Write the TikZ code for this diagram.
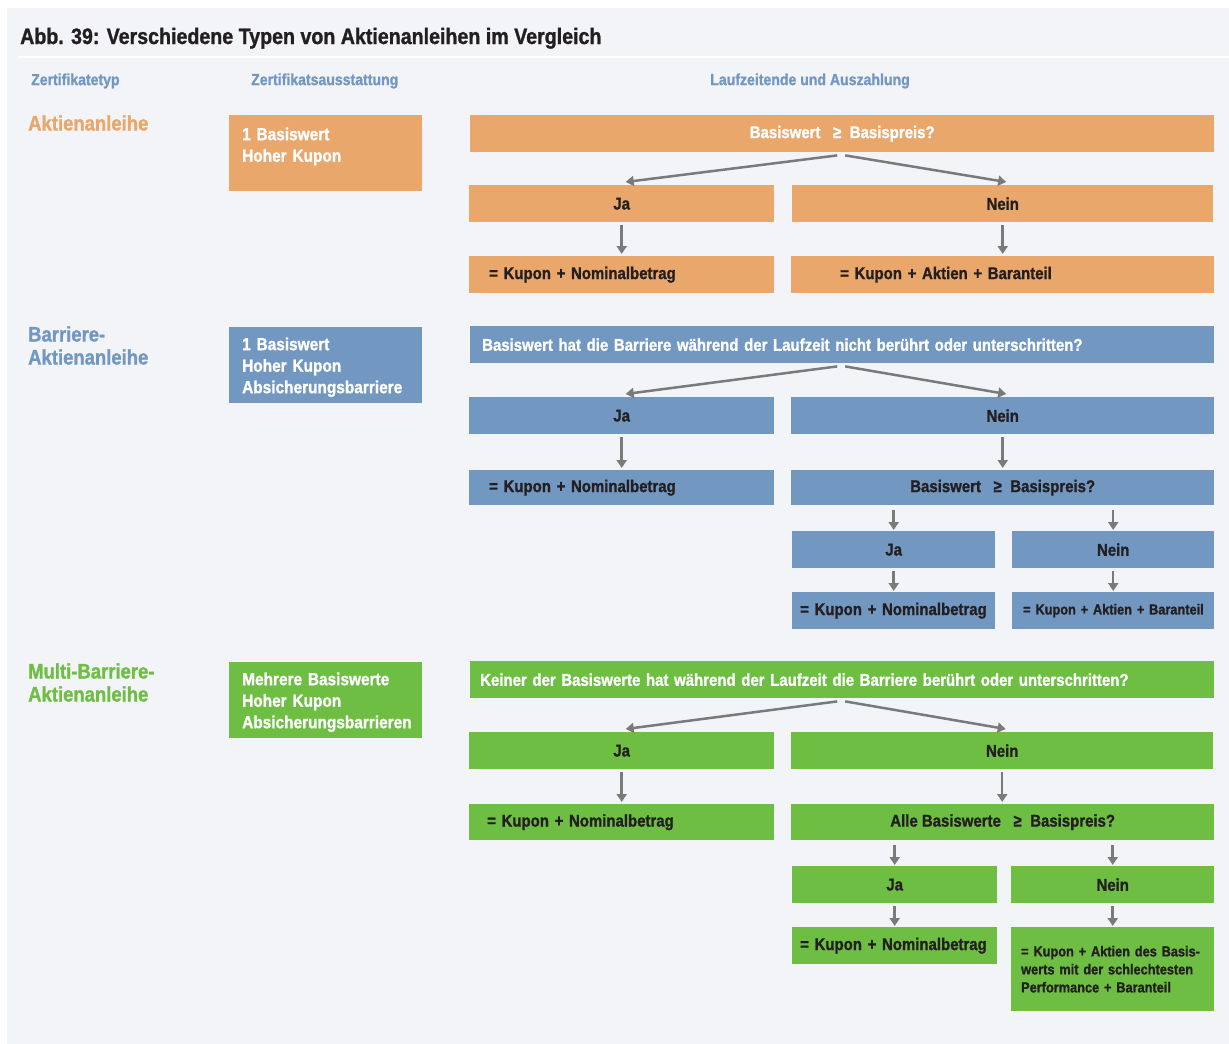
\documentclass[tikz,border=0pt]{standalone}
\usepackage{fontspec}
\setmainfont{Liberation Sans}[FakeStretch=0.88, BoldFont={Liberation Sans Bold}, BoldFeatures={FakeBold=1.2}]
\usetikzlibrary{arrows.meta,positioning}

\definecolor{ora}{HTML}{E9A76B}
\definecolor{blu}{HTML}{7298C2}
\definecolor{gre}{HTML}{6EBE44}
\definecolor{bg}{HTML}{F3F4F8}
\definecolor{ink}{HTML}{231F20}
\definecolor{pfeil}{HTML}{7A7A7A}

\begin{document}
\begin{tikzpicture}[x=1pt,y=-1pt,
		box/.style={rectangle, anchor=north west, inner sep=0pt, text=ink,
			font=\bfseries\fontsize{17}{20}\selectfont},
		lbox/.style={box, align=left, inner xsep=#1, inner ysep=0pt},
		feat/.style={box, align=left, text=white, inner xsep=13pt, text width=167pt,
			text height=23pt, text depth=53pt, font=\bfseries\fontsize{17.5}{21.5}\selectfont},
		small/.style={font=\bfseries\fontsize{14.5}{18}\selectfont},
		head/.style={text=blu, inner sep=0pt, font=\bfseries\fontsize{16}{18}\selectfont},
		typ/.style={inner sep=0pt, align=left, anchor=west, font=\bfseries\fontsize{21}{23}\selectfont},
		link/.style={draw=pfeil, line width=2.5pt, -{Triangle[width=10pt,length=8pt]}}]

	\useasboundingbox (0,0) rectangle (1229,1044);
	\fill[bg] (7,8) rectangle (1229,1044);
	\draw[white, line width=2pt] (19,57) -- (1229,57);

	\node[inner sep=0pt, anchor=base west, text=ink, font=\bfseries\fontsize{22.3}{26}\selectfont] (title) at (20,44)
		{Abb. 39: Verschiedene Typen von Aktienanleihen im Vergleich};
	\node[head, anchor=west] (h1) at (31,81) {Zertifikatetyp};
	\node[head, anchor=west] (h2) at (251,81) {Zertifikatsausstattung};
	\node[head] (h3) at (810,81) {Laufzeitende und Auszahlung};

	% Aktienanleihe
	\node[typ, text=ora] (t1) at (28,123) {Aktienanleihe};
	\node[feat, fill=ora, text height=25pt, text depth=51pt] (f1) at (229,115) {1 Basiswert\\Hoher Kupon};
	\node[box, fill=ora, text=white, minimum width=744pt, minimum height=37pt] (q1) at (470,115) {Basiswert \enskip≥\enskip Basispreis?};
	\node[box, fill=ora, minimum width=305pt, minimum height=37pt] (ja1) at (469,185) {Ja};
	\node[box, fill=ora, minimum width=421pt, minimum height=37pt] (ne1) at (792,185) {Nein};
	\node[lbox=20pt, fill=ora, text width=265pt, minimum height=37pt] (r1a) at (469,256) {= Kupon + Nominalbetrag};
	\node[lbox=49pt, fill=ora, text width=325pt, minimum height=37pt] (r1b) at (791,256) {= Kupon + Aktien + Baranteil};

	\draw[link] ([xshift=-5pt,yshift=-3pt]q1.south) -- ([xshift=4pt,yshift=3pt]ja1.north);
	\draw[link] ([xshift=3pt,yshift=-3pt]q1.south) -- ([xshift=3.5pt,yshift=3pt]ne1.north);
	\draw[link, shorten <=3pt, shorten >=2pt] (ja1.south) -- (r1a.north -| ja1.south);
	\draw[link, shorten <=3pt, shorten >=2pt] (ne1.south) -- (r1b.north -| ne1.south);

	% Barriere-Aktienanleihe
	\node[typ, text=blu] (t2) at (28,345.5) {Barriere-\\Aktienanleihe};
	\node[feat, fill=blu] (f2) at (229,327) {1 Basiswert\\Hoher Kupon\\Absicherungsbarriere};
	\node[lbox=12pt, fill=blu, text=white, text width=720pt, minimum height=37pt] (q2) at (470,326)
		{Basiswert hat die Barriere während der Laufzeit nicht berührt oder unterschritten?};
	\node[box, fill=blu, minimum width=305pt, minimum height=37pt] (ja2) at (469,397) {Ja};
	\node[box, fill=blu, minimum width=423pt, minimum height=37pt] (ne2) at (791,397) {Nein};
	\node[lbox=20pt, fill=blu, text width=265pt, minimum height=35pt] (r2a) at (469,470) {= Kupon + Nominalbetrag};
	\node[box, fill=blu, minimum width=423pt, minimum height=35pt] (q2b) at (791,470) {Basiswert \enskip≥\enskip Basispreis?};
	\node[box, fill=blu, minimum width=203pt, minimum height=37pt] (ja2b) at (792,531) {Ja};
	\node[box, fill=blu, minimum width=202pt, minimum height=37pt] (ne2b) at (1012,531) {Nein};
	\node[lbox=8pt, fill=blu, text width=187pt, minimum height=37pt] (r2b) at (792,592) {\mbox{= Kupon + Nominalbetrag}};
	\node[lbox=11pt, small, fill=blu, text width=180pt, minimum height=37pt] (r2c) at (1012,592) {\mbox{= Kupon + Aktien + Baranteil}};

	\draw[link] ([xshift=-5pt,yshift=-3pt]q2.south) -- ([xshift=4pt,yshift=3pt]ja2.north);
	\draw[link] ([xshift=3pt,yshift=-3pt]q2.south) -- ([xshift=3.5pt,yshift=3pt]ne2.north);
	\draw[link, shorten <=3pt, shorten >=2pt] (ja2.south) -- (r2a.north -| ja2.south);
	\draw[link, shorten <=3pt, shorten >=2pt] (ne2.south) -- (q2b.north -| ne2.south);
	\draw[link, shorten <=5pt, shorten >=1pt] (ja2b.north |- q2b.south) -- (ja2b.north);
	\draw[link, shorten <=5pt, shorten >=1pt] (ne2b.north |- q2b.south) -- (ne2b.north);
	\draw[link, shorten <=3pt, shorten >=1pt] (ja2b.south) -- (r2b.north -| ja2b.south);
	\draw[link, shorten <=3pt, shorten >=1pt] (ne2b.south) -- (r2c.north -| ne2b.south);

	% Multi-Barriere-Aktienanleihe
	\node[typ, text=gre] (t3) at (28,682.5) {Multi-Barriere-\\Aktienanleihe};
	\node[feat, fill=gre] (f3) at (229,662) {Mehrere Basiswerte\\Hoher Kupon\\Absicherungsbarrieren};
	\node[lbox=10pt, fill=gre, text=white, text width=724pt, minimum height=37pt] (q3) at (470,661)
		{Keiner der Basiswerte hat während der Laufzeit die Barriere berührt oder unterschritten?};
	\node[box, fill=gre, minimum width=305pt, minimum height=37pt] (ja3) at (469,732) {Ja};
	\node[box, fill=gre, minimum width=422pt, minimum height=37pt] (ne3) at (791,732) {Nein};
	\node[lbox=18pt, fill=gre, text width=269pt, minimum height=36pt] (r3a) at (469,804) {= Kupon + Nominalbetrag};
	\node[box, fill=gre, minimum width=423pt, minimum height=36pt] (q3b) at (791,804) {Alle Basiswerte \enskip≥\enskip Basispreis?};
	\node[box, fill=gre, minimum width=205pt, minimum height=37pt] (ja3b) at (792,866) {Ja};
	\node[box, fill=gre, minimum width=203pt, minimum height=37pt] (ne3b) at (1011,866) {Nein};
	\node[lbox=8pt, fill=gre, text width=189pt, minimum height=37pt] (r3b) at (792,927) {\mbox{= Kupon + Nominalbetrag}};
	\node[lbox=10pt, small, fill=gre, text width=183pt, minimum height=84pt] (r3c) at (1011,927)
		{= Kupon + Aktien des Basis-\\werts mit der schlechtesten\\Performance + Baranteil};

	\draw[link] ([xshift=-5pt,yshift=-3pt]q3.south) -- ([xshift=4pt,yshift=3pt]ja3.north);
	\draw[link] ([xshift=3pt,yshift=-3pt]q3.south) -- ([xshift=3.5pt,yshift=3pt]ne3.north);
	\draw[link, shorten <=3pt, shorten >=2pt] (ja3.south) -- (r3a.north -| ja3.south);
	\draw[link, shorten <=3pt, shorten >=2pt] (ne3.south) -- (q3b.north -| ne3.south);
	\draw[link, shorten <=5pt, shorten >=1pt] (ja3b.north |- q3b.south) -- (ja3b.north);
	\draw[link, shorten <=5pt, shorten >=1pt] (ne3b.north |- q3b.south) -- (ne3b.north);
	\draw[link, shorten <=3pt, shorten >=1pt] (ja3b.south) -- (r3b.north -| ja3b.south);
	\draw[link, shorten <=3pt, shorten >=1pt] (ne3b.south) -- (r3c.north -| ne3b.south);
\end{tikzpicture}
\end{document}
